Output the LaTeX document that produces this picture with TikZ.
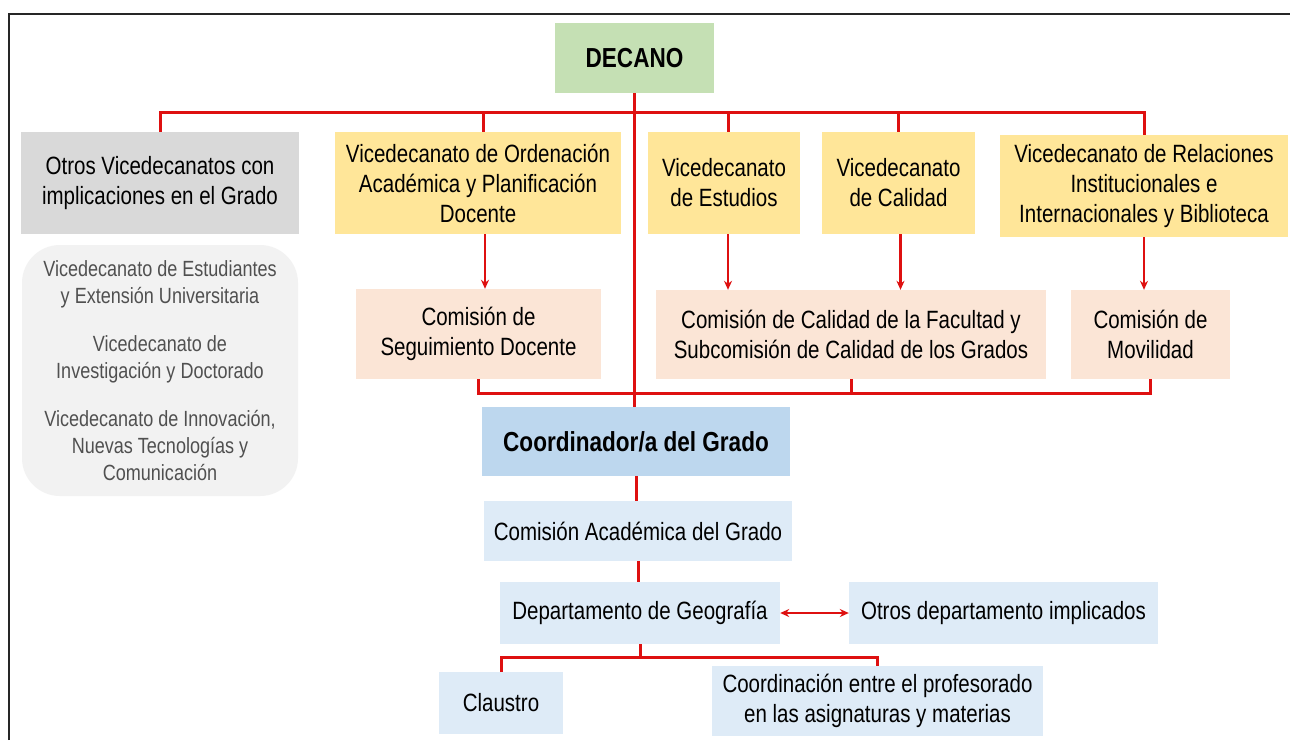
\documentclass[tikz,border=0pt]{standalone}
\usepackage{fontspec}
\setmainfont{Liberation Sans}[FakeStretch=0.82]
\usetikzlibrary{arrows.meta}
\definecolor{lred}{RGB}{222,16,16}
\definecolor{cgreen}{RGB}{197,224,180}
\definecolor{cyellow}{RGB}{255,230,153}
\definecolor{cgray}{RGB}{217,217,217}
\definecolor{clgray}{RGB}{242,242,242}
\definecolor{cpeach}{RGB}{251,229,214}
\definecolor{cblue}{RGB}{189,215,238}
\definecolor{clblue}{RGB}{222,235,247}
\definecolor{gtext}{RGB}{80,80,80}
\tikzset{
  box/.style={rectangle, inner sep=0pt, align=center, font=\fontsize{25}{30}\selectfont},
  bbox/.style={box, font=\fontsize{27.5}{30}\selectfont\bfseries},
  conn/.style={draw=lred, line width=3pt},
  arr/.style={draw=lred, line width=2.2pt, -{Stealth[length=9pt,width=8pt]}},
  darr/.style={draw=lred, line width=2.2pt, {Stealth[length=9pt,width=8pt]}-{Stealth[length=9pt,width=8pt]}},
}
\begin{document}
\begin{tikzpicture}[x=1pt,y=-1pt]
\useasboundingbox (0,0) rectangle (1290,740);
\fill[white] (0,0) rectangle (1290,740);
\draw[line width=2pt, black!85] (9,740) -- (9,14) -- (1290,14);
% nodes
\node[bbox, fill=cgreen, minimum width=159pt, minimum height=70pt] (dec) at (634.5,58) {DECANO};
\node[box, fill=cgray, minimum width=278pt, minimum height=102pt] (otros) at (160,183) {Otros Vicedecanatos con\\implicaciones en el Grado};
\node[box, fill=cyellow, minimum width=286pt, minimum height=102pt] (ord) at (478,183) {Vicedecanato de Ordenación\\Académica y Planificación\\Docente};
\node[box, fill=cyellow, minimum width=152pt, minimum height=102pt] (est) at (724,183) {Vicedecanato\\de Estudios};
\node[box, fill=cyellow, minimum width=153pt, minimum height=102pt] (cal) at (898.5,183) {Vicedecanato\\de Calidad};
\node[box, fill=cyellow, minimum width=288pt, minimum height=102pt] (rel) at (1144,186) {Vicedecanato de Relaciones\\Institucionales e\\Internacionales y Biblioteca};
\node[box, fill=clgray, rounded corners=38pt, minimum width=276pt, minimum height=251pt, text=gtext, font=\fontsize{22}{27}\selectfont] (otl) at (160,370.5) {Vicedecanato de Estudiantes\\y Extensión Universitaria\\[21pt]Vicedecanato de\\Investigación y Doctorado\\[21pt]Vicedecanato de Innovación,\\Nuevas Tecnologías y\\Comunicación};
\node[box, fill=cpeach, minimum width=245pt, minimum height=90pt] (seg) at (478.5,334) {Comisión de\\Seguimiento Docente};
\node[box, fill=cpeach, minimum width=390pt, minimum height=89pt] (cf) at (851,334.5) {Comisión de Calidad de la Facultad y\\Subcomisión de Calidad de los Grados};
\node[box, fill=cpeach, minimum width=159pt, minimum height=89pt] (mov) at (1150.5,334.5) {Comisión de\\Movilidad};
\node[bbox, fill=cblue, minimum width=308pt, minimum height=69pt] (coord) at (636,441.5) {Coordinador/a del Grado};
\node[box, fill=clblue, minimum width=308pt, minimum height=60pt] (cag) at (638,531) {Comisión Académica del Grado};
\node[box, fill=clblue, minimum width=280pt, minimum height=62pt] (dep) at (640,613) {Departamento de Geografía};
\node[box, fill=clblue, minimum width=309pt, minimum height=62pt] (odep) at (1003.5,613) {Otros departamento implicados};
\node[box, fill=clblue, minimum width=124pt, minimum height=62pt] (cla) at (501,703) {Claustro};
\node[box, fill=clblue, minimum width=331pt, minimum height=70pt] (cpr) at (877.5,701) {Coordinación entre el profesorado\\en las asignaturas y materias};
% connectors
\coordinate (bus) at (0,112);
\coordinate (bus2) at (0,393);
\coordinate (bus3) at (0,657);
\draw[conn] (otros.north) -- (otros.north |- bus) -- (rel.north |- bus) -- (rel.north);
\draw[conn] ([xshift=5pt]ord.north) -- ([xshift=5pt]ord.north |- bus);
\draw[conn] ([xshift=4pt]est.north) -- ([xshift=4pt]est.north |- bus);
\draw[conn] (cal.north) -- (cal.north |- bus);
\draw[conn] (dec.south) -- (dec.south |- coord.north);
\draw[arr] ([xshift=7pt]ord.south) -- ([xshift=7pt]ord.south |- seg.north);
\draw[arr] ([xshift=4pt]est.south) -- ([xshift=4pt]est.south |- cf.north);
\draw[arr] ([xshift=2pt]cal.south) -- ([xshift=2pt]cal.south |- cf.north);
\draw[arr] (rel.south) -- (rel.south |- mov.north);
\draw[conn] (seg.south) -- (seg.south |- bus2) -- (mov.south |- bus2) -- (mov.south);
\draw[conn] (cf.south) -- (cf.south |- bus2);
\draw[conn] (coord.south) -- (coord.south |- cag.north);
\draw[conn] (cag.south) -- (cag.south |- dep.north);
\draw[darr] (dep.east) -- (odep.west);
\draw[conn] (dep.south) -- (dep.south |- bus3);
\draw[conn] (cla.north) -- (cla.north |- bus3) -- (cpr.north |- bus3) -- (cpr.north);
\end{tikzpicture}
\end{document}
